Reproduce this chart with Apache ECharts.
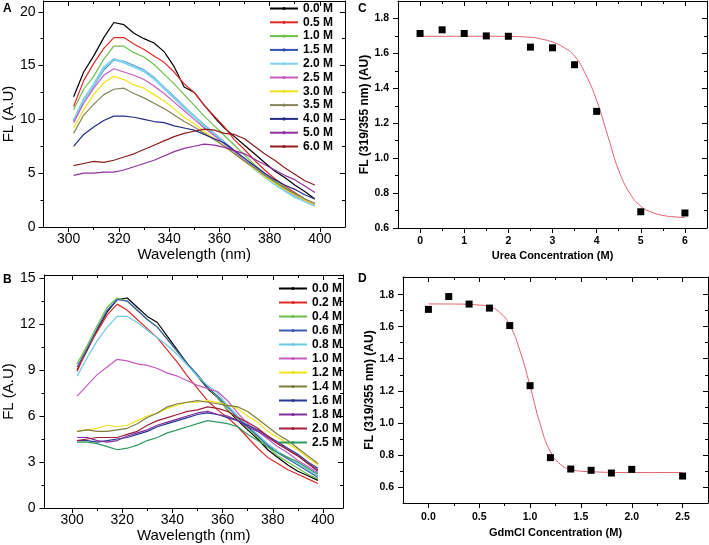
<!DOCTYPE html>
<html><head><meta charset="utf-8">
<script src="https://cdn.jsdelivr.net/npm/echarts@6.0.0/dist/echarts.min.js"></script>
<style>html,body{margin:0;padding:0;background:#fff}#chart{width:709px;height:545px}</style>
</head><body><div id="chart"></div>
<script>
// ---------- DATA ----------
const wavelengths = [302,306,310,314,318,322,326,330,334,338,342,346,350,354,358,362,366,370,374,378,382,386,390,394,398];

// Panel A: urea spectra
const ureaNames = ['0.0 M','0.5 M','1.0 M','1.5 M','2.0 M','2.5 M','3.0 M','3.5 M','4.0 M','5.0 M','6.0 M'];
const urea00 = [12.1,14.4,15.9,17.6,19.0,18.8,18.0,17.5,17.1,16.3,14.9,13.0,12.5,11.3,10.2,9.2,8.4,7.6,6.8,6.0,5.2,4.6,3.9,3.3,2.6];
const urea05 = [11.2,13.6,15.2,16.6,17.6,17.6,17.0,16.5,15.9,15.3,14.4,13.3,12.5,11.3,10.3,9.3,8.1,7.2,6.2,5.3,4.5,3.8,3.2,2.6,2.1];
const urea10 = [10.9,12.8,14.0,15.6,16.8,16.8,16.2,15.8,15.1,14.2,13.3,12.3,11.3,10.3,9.4,8.5,7.6,6.7,5.8,5.0,4.3,3.7,3.1,2.6,2.1];
const urea15 = [9.9,11.9,13.1,14.6,15.5,15.4,15.0,14.6,13.9,13.0,12.1,11.2,10.3,9.5,8.7,7.9,7.1,6.3,5.5,4.8,4.1,3.5,2.9,2.4,2.0];
const urea20 = [9.8,11.8,13.2,14.8,15.6,15.3,14.9,14.5,13.8,12.9,12.0,11.1,10.3,9.4,8.6,7.8,7.0,6.2,5.4,4.7,4.0,3.4,2.8,2.4,2.0];
const urea25 = [9.7,11.5,12.9,14.1,14.7,14.4,14.1,13.7,13.1,12.4,11.6,10.8,10.0,9.2,8.5,7.7,7.0,6.2,5.5,4.8,4.2,3.5,3.0,2.5,2.1];
const urea30 = [9.2,10.9,12.3,13.4,14.0,13.7,13.2,12.9,12.3,11.7,11.0,10.2,9.6,8.9,8.2,7.5,6.8,6.1,5.4,4.7,4.1,3.5,3.0,2.5,2.1];
const urea35 = [8.7,10.4,11.4,12.3,12.8,12.9,12.4,12.0,11.5,11.0,10.4,9.8,9.3,8.7,8.1,7.5,6.8,6.1,5.5,4.8,4.2,3.6,3.1,2.6,2.2];
const urea40 = [7.5,8.6,9.3,9.9,10.3,10.3,10.2,10.0,9.8,9.7,9.4,9.2,9.0,8.6,8.2,7.8,7.1,6.4,5.7,5.0,4.4,3.9,3.5,3.0,2.6];
const urea50 = [4.8,5.0,5.0,5.1,5.1,5.3,5.6,5.9,6.2,6.6,7.0,7.3,7.5,7.7,7.6,7.4,7.1,6.8,6.3,5.8,5.3,4.8,4.4,3.8,3.2];
const urea60 = [5.7,5.9,6.1,6.0,6.2,6.5,6.8,7.2,7.6,8.0,8.4,8.7,8.9,9.1,9.0,8.7,8.6,8.2,7.5,6.8,6.2,5.5,4.9,4.3,3.9];
const ureaSpectra = [urea00,urea05,urea10,urea15,urea20,urea25,urea30,urea35,urea40,urea50,urea60];
const ureaColors = ['#000000','#e02a2a','#6cc04a','#3050b0','#7fd3ea','#c45cc0','#f2e21a','#86845a','#232c88','#93309f','#8e1e1e'];

// Panel B: GdmCl spectra
const gdmNames = ['0.0 M','0.2 M','0.4 M','0.6 M','0.8 M','1.0 M','1.2 M','1.4 M','1.6 M','1.8 M','2.0 M','2.5 M'];
const gdm00 = [9.0,10.3,11.6,12.8,13.6,13.7,13.1,12.5,12.1,11.2,10.3,9.4,8.6,7.8,7.2,6.4,5.7,5.1,4.5,3.8,3.3,2.8,2.4,2.1,1.8];
const gdm02 = [8.9,10.4,11.5,12.6,13.3,12.9,12.3,11.7,11.1,10.3,9.5,8.6,7.8,7.0,6.4,5.9,5.3,4.6,3.9,3.3,2.9,2.5,2.2,1.9,1.6];
const gdm04 = [9.4,10.6,11.9,13.1,13.7,13.5,12.9,12.3,11.8,11.0,10.2,9.4,8.6,7.9,7.2,6.4,5.8,5.2,4.6,4.0,3.4,3.0,2.6,2.2,1.9];
const gdm06 = [9.2,10.4,11.7,12.9,13.6,13.5,12.9,12.3,11.8,11.0,10.2,9.4,8.7,7.9,7.3,6.6,5.9,5.3,4.7,4.1,3.6,3.2,2.8,2.4,2.0];
const gdm08 = [8.6,9.8,10.9,11.8,12.5,12.5,12.1,11.6,11.1,10.6,10.0,9.3,8.6,8.0,7.5,6.7,6.0,5.4,4.8,4.2,3.7,3.3,2.9,2.5,2.1];
const gdm10 = [7.3,8.0,8.7,9.2,9.7,9.6,9.4,9.3,9.1,8.8,8.6,8.3,8.0,7.8,7.6,7.0,6.2,5.5,5.0,4.5,4.0,3.6,3.1,2.7,2.3];
const gdm12 = [5.0,5.1,5.2,5.4,5.3,5.4,5.7,6.0,6.2,6.5,6.7,6.9,6.9,7.0,6.9,6.7,6.5,6.0,5.6,5.0,4.6,4.2,3.8,3.3,2.8];
const gdm14 = [5.0,5.1,5.0,5.0,5.1,5.2,5.5,5.9,6.2,6.6,6.8,6.9,7.0,6.9,6.8,6.7,6.6,6.3,5.8,5.3,4.8,4.4,3.9,3.4,2.9];
const gdm16 = [4.4,4.4,4.3,4.4,4.5,4.6,4.8,5.0,5.3,5.5,5.7,5.9,6.1,6.2,6.1,5.9,5.7,5.4,5.1,4.7,4.3,3.9,3.5,3.0,2.6];
const gdm18 = [4.6,4.6,4.4,4.3,4.4,4.7,4.9,5.1,5.4,5.6,5.8,6.0,6.2,6.3,6.1,6.0,5.7,5.3,5.0,4.6,4.2,3.8,3.4,2.9,2.4];
const gdm20 = [4.4,4.5,4.6,4.6,4.6,4.8,5.0,5.4,5.7,5.9,6.1,6.3,6.4,6.6,6.5,6.3,5.9,5.6,5.2,4.7,4.2,3.8,3.4,2.9,2.5];
const gdm25 = [4.3,4.3,4.2,4.0,3.8,3.9,4.1,4.4,4.6,4.9,5.1,5.3,5.5,5.7,5.6,5.5,5.3,4.8,4.4,4.0,3.6,3.3,3.0,2.6,2.2];
const gdmSpectra = [gdm00,gdm02,gdm04,gdm06,gdm08,gdm10,gdm12,gdm14,gdm16,gdm18,gdm20,gdm25];
const gdmColors = ['#000000','#e02a2a','#6cc04a','#3a5cb0','#6cc9e2','#c45cc0','#f2e21a','#7e7c3e','#283896','#7f2c9c','#a3203a','#2f9a62'];

// Panel C: urea ratio
const ureaConcX = [0,0.5,1,1.5,2,2.5,3,3.5,4,5,6];
const ureaRatio = [1.714,1.735,1.714,1.700,1.698,1.636,1.632,1.535,1.268,0.693,0.686];
const ureaFitX = [0,0.5,1,1.5,2,2.5,2.75,3,3.25,3.5,3.75,4,4.25,4.5,4.75,5,5.25,5.5,5.75,6];
const ureaFitY = [1.698,1.698,1.698,1.698,1.697,1.692,1.682,1.665,1.635,1.585,1.48,1.33,1.13,0.93,0.80,0.725,0.69,0.672,0.664,0.660];

// Panel D: GdmCl ratio
const gdmConcX = [0,0.2,0.4,0.6,0.8,1.0,1.2,1.4,1.6,1.8,2.0,2.5];
const gdmRatio = [1.708,1.788,1.741,1.716,1.607,1.232,0.783,0.712,0.704,0.687,0.710,0.668];
const gdmFitX = [0,0.3,0.5,0.6,0.7,0.8,0.9,1.0,1.1,1.2,1.3,1.4,1.6,2.0,2.5];
const gdmFitY = [1.742,1.741,1.735,1.725,1.69,1.61,1.45,1.23,0.99,0.82,0.74,0.71,0.695,0.69,0.69];

// tick labels
const ticksAx = [300,320,340,360,380,400], minorAx = [310,330,350,370,390];
const ticksAy = [0,5,10,15,20], minorAy = [2.5,7.5,12.5,17.5];
const ticksBy = [0,3,6,9,12,15], minorBy = [1.5,4.5,7.5,10.5,13.5];
const ticksCx = [0,1,2,3,4,5,6], minorCx = [0.5,1.5,2.5,3.5,4.5,5.5];
const ticksCy = [0.6,0.8,1.0,1.2,1.4,1.6,1.8], minorCy = [0.7,0.9,1.1,1.3,1.5,1.7];
const ticksDx = [0,0.5,1.0,1.5,2.0,2.5], minorDx = [0.25,0.75,1.25,1.75,2.25];
const ticksDy = [0.6,0.8,1.0,1.2,1.4,1.6,1.8], minorDy = [0.7,0.9,1.1,1.3,1.5,1.7];

// ---------- CHART ----------
const FONT = '"Liberation Sans", Arial, sans-serif';
const AXS = {color:'#000', width:1};
const xAxes = [], yAxes = [];
function makeAxes(g, c) {
  const base = {gridIndex:g, type:'value', splitLine:{show:false}, scale:true};
  const lbl = (vals, fmt, margin) => ({show:true, customValues:vals, formatter:fmt, margin:margin,
      color:'#000', fontSize:c.fs, fontWeight:c.fw, fontFamily:FONT});
  const nm = {color:'#000', fontFamily:FONT, fontWeight:c.fw};
  xAxes.push(Object.assign({}, base, {position:'bottom', min:c.x[0], max:c.x[1],
    axisLine:{show:true,onZero:false,lineStyle:AXS},
    axisTick:{show:true,inside:false,length:5,lineStyle:AXS,customValues:c.xMaj},
    axisLabel:lbl(c.xMaj,c.xFmt,c.xMargin),
    name:c.xName, nameLocation:'middle', nameGap:c.xGap, nameTextStyle:Object.assign({fontSize:c.xNameFs},nm)}));
  xAxes.push(Object.assign({}, base, {position:'bottom', min:c.x[0], max:c.x[1],
    axisLine:{show:false,onZero:false}, axisLabel:{show:false},
    axisTick:{show:true,inside:false,length:3,lineStyle:AXS,customValues:c.xMin}}));
  xAxes.push(Object.assign({}, base, {position:'top', min:c.x[0], max:c.x[1],
    axisLine:{show:true,onZero:false,lineStyle:AXS}, axisLabel:{show:false},
    axisTick:{show:true,inside:true,length:5,lineStyle:AXS,customValues:c.xMaj}}));
  xAxes.push(Object.assign({}, base, {position:'top', min:c.x[0], max:c.x[1],
    axisLine:{show:false,onZero:false}, axisLabel:{show:false},
    axisTick:{show:true,inside:true,length:3,lineStyle:AXS,customValues:c.xMin}}));
  yAxes.push(Object.assign({}, base, {position:'left', min:c.y[0], max:c.y[1],
    axisLine:{show:true,onZero:false,lineStyle:AXS},
    axisTick:{show:true,inside:false,length:5,lineStyle:AXS,customValues:c.yMaj},
    axisLabel:lbl(c.yMaj,c.yFmt,c.yMargin),
    name:c.yName, nameLocation:'middle', nameGap:c.yGap, nameTextStyle:Object.assign({fontSize:c.yNameFs},nm)}));
  yAxes.push(Object.assign({}, base, {position:'left', min:c.y[0], max:c.y[1],
    axisLine:{show:false,onZero:false}, axisLabel:{show:false},
    axisTick:{show:true,inside:false,length:3,lineStyle:AXS,customValues:c.yMin}}));
  yAxes.push(Object.assign({}, base, {position:'right', min:c.y[0], max:c.y[1],
    axisLine:{show:true,onZero:false,lineStyle:AXS}, axisLabel:{show:false},
    axisTick:{show:true,inside:true,length:5,lineStyle:AXS,customValues:c.yMaj}}));
  yAxes.push(Object.assign({}, base, {position:'right', min:c.y[0], max:c.y[1],
    axisLine:{show:false,onZero:false}, axisLabel:{show:false},
    axisTick:{show:true,inside:true,length:3,lineStyle:AXS,customValues:c.yMin}}));
}
const intFmt = v => String(Math.round(v));
const f1 = v => v.toFixed(1);
makeAxes(0, {x:[290,410], y:[0,21], xMaj:ticksAx, xMin:minorAx, yMaj:ticksAy, yMin:minorAy,
  xFmt:intFmt, yFmt:intFmt, fs:14, fw:'normal', xMargin:5, yMargin:8,
  xName:'Wavelength (nm)', xGap:20, xNameFs:15, yName:'FL (A.U)', yGap:23, yNameFs:15});
makeAxes(1, {x:[289,408], y:[0,15.2], xMaj:ticksAx, xMin:minorAx, yMaj:ticksBy, yMin:minorBy,
  xFmt:intFmt, yFmt:intFmt, fs:14, fw:'normal', xMargin:5, yMargin:9,
  xName:'Wavelength (nm)', xGap:20, xNameFs:15, yName:'FL (A.U)', yGap:22, yNameFs:15});
makeAxes(2, {x:[-0.5,6.5], y:[0.6,1.9], xMaj:ticksCx, xMin:minorCx, yMaj:ticksCy, yMin:minorCy,
  xFmt:intFmt, yFmt:f1, fs:10.5, fw:'bold', xMargin:8, yMargin:9,
  xName:'Urea Concentration (M)', xGap:22, xNameFs:11, yName:'FL (319/355 nm) (AU)', yGap:24, yNameFs:12});
makeAxes(3, {x:[-0.25,2.75], y:[0.5,1.91], xMaj:ticksDx, xMin:minorDx, yMaj:ticksDy, yMin:minorDy,
  xFmt:f1, yFmt:f1, fs:10.5, fw:'bold', xMargin:9, yMargin:9,
  xName:'GdmCl Concentration (M)', xGap:24, xNameFs:11, yName:'FL (319/355 nm) (AU)', yGap:27, yNameFs:12});

const series = [];
ureaNames.forEach((n, i) => {
  series.push({type:'line', name:'A|' + n, xAxisIndex:0, yAxisIndex:0,
    data: wavelengths.map((w, k) => [w, ureaSpectra[i][k]]),
    showSymbol:false, symbol:'circle', symbolSize:3, color:ureaColors[i],
    lineStyle:{width: n === '2.0 M' ? 2.6 : 1.2, color:ureaColors[i]}});
});
gdmNames.forEach((n, i) => {
  series.push({type:'line', name:'B|' + n, xAxisIndex:4, yAxisIndex:4,
    data: wavelengths.map((w, k) => [w, gdmSpectra[i][k]]),
    showSymbol:false, symbol:'circle', symbolSize:3, color:gdmColors[i],
    lineStyle:{width:1.2, color:gdmColors[i]}});
});
series.push({type:'line', name:'ureaFit', xAxisIndex:8, yAxisIndex:8, smooth:true, showSymbol:false,
  data: ureaFitX.map((x, k) => [x, ureaFitY[k]]), lineStyle:{color:'#e3606c', width:1}, color:'#e3606c'});
series.push({type:'scatter', name:'ureaPts', xAxisIndex:8, yAxisIndex:8, symbol:'rect', symbolSize:7,
  data: ureaConcX.map((x, k) => [x, ureaRatio[k]]), itemStyle:{color:'#000', opacity:1}, z:5});
series.push({type:'line', name:'gdmFit', xAxisIndex:12, yAxisIndex:12, smooth:true, showSymbol:false,
  data: gdmFitX.map((x, k) => [x, gdmFitY[k]]), lineStyle:{color:'#e3606c', width:1}, color:'#e3606c'});
series.push({type:'scatter', name:'gdmPts', xAxisIndex:12, yAxisIndex:12, symbol:'rect', symbolSize:7,
  data: gdmConcX.map((x, k) => [x, gdmRatio[k]]), itemStyle:{color:'#000', opacity:1}, z:5});

const legendText = {color:'#000', fontSize:12, fontWeight:'bold', fontFamily:FONT, lineHeight:13};
const option = {
  animation:false,
  backgroundColor:'#fff',
  grid:[
    {left:43, top:1, width:302, height:226},
    {left:38, top:275, width:305, height:233},
    {left:398, top:1, width:309, height:227},
    {left:403, top:277, width:305, height:226}
  ],
  xAxis:xAxes, yAxis:yAxes,
  legend:[
    {data:ureaNames.map(n => 'A|' + n), orient:'vertical', left:269, top:2, itemWidth:28, itemHeight:4,
     itemGap:0.8, padding:0, textStyle:legendText, formatter:n => n.slice(2), selectedMode:false},
    {data:gdmNames.map(n => 'B|' + n), orient:'vertical', left:278, top:282, itemWidth:28, itemHeight:4,
     itemGap:1, padding:0, textStyle:legendText, formatter:n => n.slice(2), selectedMode:false}
  ],
  graphic:[
    {type:'text', left:3, top:3, style:{text:'A', font:'bold 12px ' + FONT, fill:'#000'}},
    {type:'text', left:3, top:274, style:{text:'B', font:'bold 12px ' + FONT, fill:'#000'}},
    {type:'text', left:358, top:3, style:{text:'C', font:'bold 12px ' + FONT, fill:'#000'}},
    {type:'text', left:358, top:273, style:{text:'D', font:'bold 12px ' + FONT, fill:'#000'}}
  ],
  series:series
};
const chart = echarts.init(document.getElementById('chart'), null, {renderer:'canvas'});
chart.setOption(option);
</script></body></html>
